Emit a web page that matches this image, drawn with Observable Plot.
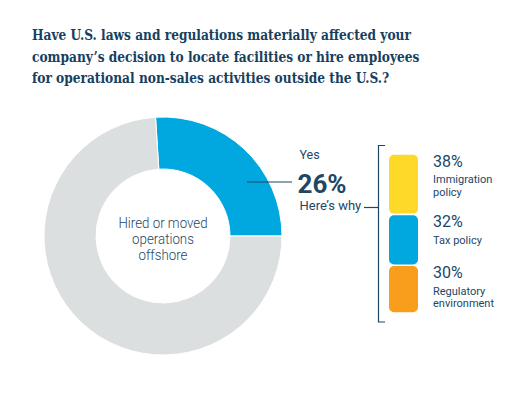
<!DOCTYPE html>
<html><head><meta charset="utf-8">
<script src="https://cdn.jsdelivr.net/npm/d3@7"></script>
<script src="https://cdn.jsdelivr.net/npm/@observablehq/plot@0.6"></script>
<style>
body{margin:0;background:#fff;width:531px;height:400px;overflow:hidden;}
#title{position:absolute;left:32px;top:24px;margin:0;white-space:nowrap;font-family:"DejaVu Serif Condensed","DejaVu Serif",serif;font-weight:bold;font-size:15.5px;line-height:21.5px;color:#17405f;transform:scaleX(0.875);transform-origin:0 0;}
#chart{position:absolute;left:0;top:95px;}
</style></head><body>
<div id="title">Have U.S. laws and regulations materially affected your<br>company’s decision to locate facilities or hire employees<br>for operational non-sales activities outside the U.S.?</div>
<div id="chart"></div>
<script>
const donutLabels = ["Yes", "No"];
const donutValues = [26, 74];
const reasons = ["Immigration policy", "Tax policy", "Regulatory environment"];
const reasonLines = [["Immigration", "policy"], ["Tax policy"], ["Regulatory", "environment"]];
const reasonValues = [38, 32, 30];
const centerLines = ["Hired or moved", "operations", "offshore"];

const navy = "#1c4866";
const donutColors = ["#00a8df", "#dcdfe0"];
const reasonColors = ["#ffd927", "#00a8df", "#f99e1c"];
const font = "Roboto, 'Noto Sans', sans-serif";

const donutData = donutLabels.map((k, i) => ({label: k, value: donutValues[i]}));
const reasonData = reasons.map((r, i) => ({reason: r, value: reasonValues[i], lines: reasonLines[i], col: "why"}));

// donut as a custom mark built with d3.pie/d3.arc
function donutMark(index, scales, values, dims, context) {
  const cx = 163, cy = 141, r0 = 67, r1 = 119;
  const pie = d3.pie().sort(null).value(d => d.value).startAngle(-0.0628).endAngle(2 * Math.PI - 0.0628);
  const arcs = pie(donutData);
  const arc = d3.arc().innerRadius(r0).outerRadius(r1);
  const g = d3.create("svg:g").attr("transform", `translate(${cx},${cy})`);
  g.selectAll("path").data(arcs).join("path")
    .attr("d", arc).attr("fill", (d, i) => donutColors[i])
    .attr("stroke", "#fff").attr("stroke-width", 1);
  g.append("g").selectAll("text").data(centerLines).join("text")
    .attr("text-anchor", "middle").attr("y", (d, i) => -8 + i * 16)
    .attr("font-family", font).attr("font-size", 14).attr("font-weight", 300)
    .attr("transform", "scale(0.95,1)")
    .attr("fill", navy).text(d => d);
  return g.node();
}

// leader lines and bracket
function annotMark() {
  const g = d3.create("svg:g").attr("stroke", navy).attr("fill", "none").attr("stroke-width", 1.2);
  g.append("line").attr("x1", 247).attr("x2", 292).attr("y1", 87).attr("y2", 87);
  g.append("line").attr("x1", 364).attr("x2", 378).attr("y1", 112.5).attr("y2", 112.5);
  g.append("path").attr("d", "M385,50.5H378.5V227H385");
  return g.node();
}

const chart = Plot.plot({
  width: 531, height: 305, margin: 0,
  x: {type: "band", domain: ["why"], range: [389, 418], axis: null, padding: 0},
  y: {domain: [0, 100], range: [59, 218], axis: null},
  color: {domain: reasons, range: reasonColors},
  marks: [
    donutMark,
    annotMark,
    Plot.barY(reasonData, Plot.stackY({x: "col", y: "value", fill: "reason", rx: 5, insetTop: 0.8, insetBottom: 0.8})),
    Plot.text(reasonData, Plot.stackY1({x: "col", y: "value", text: d => d.value + "%", textAnchor: "start", lineAnchor: "top",
      dx: 29, dy: 1, fontSize: 16, fontFamily: font, fill: navy})),
    Plot.text(reasonData, Plot.stackY1({x: "col", y: "value", text: d => d.lines.join("\n"), textAnchor: "start", lineAnchor: "top",
      dx: 29, dy: 20, fontSize: 11, lineHeight: 1.15, fontFamily: font, fill: navy})),
    Plot.text([donutLabels[0]], {frameAnchor: "top-left", dx: 299, dy: 55, text: d => d, textAnchor: "start", lineAnchor: "top",
      fontSize: 12.5, fontFamily: font, fill: navy}),
    Plot.text([donutValues[0] + "%"], {frameAnchor: "top-left", dx: 297, dy: 97, text: d => d, textAnchor: "start", lineAnchor: "bottom",
      fontSize: 26, fontWeight: "bold", fontFamily: font, fill: navy, letterSpacing: -0.3}),
    Plot.text(["Here’s why"], {frameAnchor: "top-left", dx: 299, dy: 105, text: d => d, textAnchor: "start", lineAnchor: "top",
      fontSize: 13, fontFamily: font, fill: navy})
  ]
});
document.getElementById("chart").appendChild(chart);
</script>
</body></html>
